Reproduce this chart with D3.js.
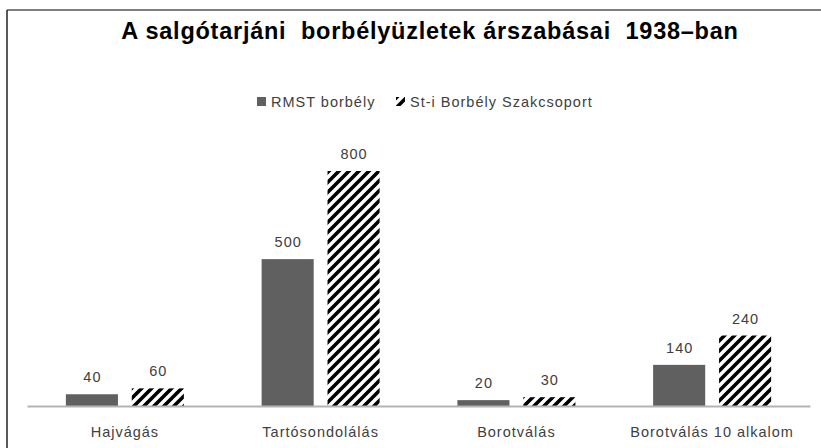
<!DOCTYPE html>
<html>
<head>
<meta charset="utf-8">
<script src="https://cdn.jsdelivr.net/npm/d3@7"></script>
<style>
  body { margin: 0; background: #fff; }
  text { font-family: "Liberation Sans", Arial, sans-serif; }
</style>
</head>
<body>
<div id="chart"></div>
<script>
// chart values
const categories = ["Hajvágás", "Tartósondolálás", "Borotválás", "Borotválás 10 alkalom"];
const seriesNames = ["RMST borbély", "St-i Borbély Szakcsoport"];
const rmst = [40, 500, 20, 140];
const szakcsoport = [60, 800, 30, 240];
const titleText = "A salgótarjáni  borbélyüzletek árszabásai  1938–ban";

const svgWidth = 821;
const svgHeight = 448;

const svg = d3.select("#chart")
  .append("svg")
  .attr("width", svgWidth)
  .attr("height", svgHeight);

// hatch pattern for the second series
const defs = svg.append("defs");
defs.append("pattern")
  .attr("id", "hatch")
  .attr("patternUnits", "userSpaceOnUse")
  .attr("width", 10)
  .attr("height", 10)
  .append("path")
  .attr("d", "M-3,3 l6,-6 M0,10 l10,-10 M7,13 l6,-6")
  .attr("stroke", "#000")
  .attr("stroke-width", 3.6);

// frame (only top and left edges visible)
svg.append("line")
  .attr("x1", 7).attr("y1", 10).attr("x2", svgWidth).attr("y2", 10)
  .attr("stroke", "#555").attr("stroke-width", 1.5);
svg.append("line")
  .attr("x1", 7).attr("y1", 10).attr("x2", 7).attr("y2", svgHeight)
  .attr("stroke", "#222").attr("stroke-width", 1.5);

// title
svg.append("text")
  .attr("x", 430)
  .attr("y", 39)
  .attr("text-anchor", "middle")
  .style("white-space", "pre")
  .style("font-weight", "bold")
  .style("font-size", "23.5px")
  .style("letter-spacing", "0.75px")
  .style("fill", "#000")
  .text(titleText);

// scales
const x0 = d3.scaleBand()
  .domain(categories)
  .range([27, 810])
  .paddingInner(0)
  .paddingOuter(0);

const x1 = d3.scaleBand()
  .domain(seriesNames)
  .range([0, 118])
  .paddingInner(0.21);

const y = d3.scaleLinear()
  .domain([0, 800])
  .range([406, 171]);

const fills = ["#606060", "url(#hatch)"];
const seriesData = [rmst, szakcsoport];
const labelStyle = sel => sel
  .style("font-size", "14.5px")
  .style("letter-spacing", "1px")
  .style("fill", "#404040");

// bars
seriesData.forEach((vals, s) => {
  const g = svg.append("g");
  g.selectAll("rect")
    .data(vals)
    .enter()
    .append("rect")
    .attr("x", (d, i) => x0(categories[i]) + x0.bandwidth() / 2 - 59 + x1(seriesNames[s]))
    .attr("y", d => y(d))
    .attr("width", x1.bandwidth())
    .attr("height", d => y(0) - y(d))
    .attr("fill", fills[s]);

  g.selectAll("text")
    .data(vals)
    .enter()
    .append("text")
    .attr("x", (d, i) => x0(categories[i]) + x0.bandwidth() / 2 - 59 + x1(seriesNames[s]) + x1.bandwidth() / 2 + 0.5)
    .attr("y", d => y(d) - 12)
    .attr("text-anchor", "middle")
    .call(labelStyle)
    .text(d => d);
});

// x axis
const xAxis = svg.append("g")
  .attr("transform", `translate(0, ${y(0)})`)
  .call(d3.axisBottom(x0).tickSize(0).tickPadding(21));
xAxis.select(".domain").attr("stroke", "#b3b3b3").attr("stroke-width", 2);
xAxis.selectAll("text")
  .style("font-family", "'Liberation Sans', Arial, sans-serif")
  .call(labelStyle);

// legend
const legend = svg.append("g").attr("transform", "translate(257, 97)");
const legendItems = [
  { name: seriesNames[0], fill: fills[0], x: 0 },
  { name: seriesNames[1], fill: fills[1], x: 139 }
];
legendItems.forEach(it => {
  legend.append("rect")
    .attr("x", it.x).attr("y", 0)
    .attr("width", 9).attr("height", 9)
    .attr("fill", it.fill);
  legend.append("text")
    .attr("x", it.x + 14)
    .attr("y", 9.5)
    .style("letter-spacing", "0.7px")
    .call(labelStyle)
    .text(it.name);
});
</script>
</body>
</html>
